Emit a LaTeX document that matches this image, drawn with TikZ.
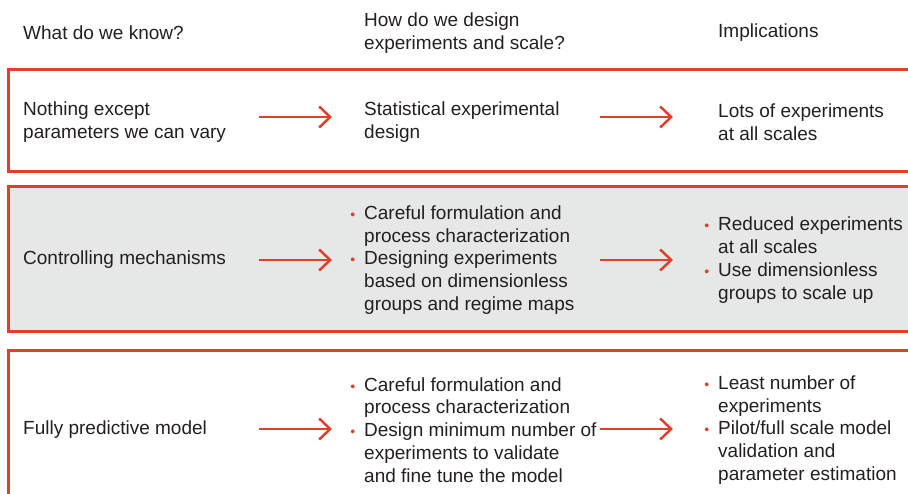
\documentclass[tikz,border=0pt]{standalone}
\usepackage{fontspec}
\setmainfont{Liberation Sans}
\usetikzlibrary{arrows.meta}
\definecolor{accent}{HTML}{E0402A}
\definecolor{panel}{HTML}{E6E7E7}
\definecolor{ink}{HTML}{231F20}
\newcommand{\bul}{\llap{\textcolor{accent}{\fontsize{14}{14}\selectfont •}\hspace{9pt}}}
\begin{document}
\begin{tikzpicture}[x=1pt,y=-1pt,
  lbl/.style={font=\fontsize{19}{22.8}\selectfont, text=ink, align=left, anchor=west, inner sep=0pt},
  panelbox/.style={draw=accent, line width=3pt},
  flow/.style={draw=accent, line width=2.5pt, -{Straight Barb[length=11pt,width=21pt]}}]
\useasboundingbox (0,0) rectangle (908,494);
\clip (0,0) rectangle (908,494);
% panels
\draw[panelbox] (8,70) rectangle (930,172);
\draw[panelbox, fill=panel] (8,187) rectangle (930,332);
\draw[panelbox] (8,351) rectangle (930,520);
% header
\node[lbl] (h1) at (23,33) {What do we know?};
\node[lbl] (h2) at (364,33) {How do we design\\experiments and scale?};
\node[lbl] (h3) at (718,33) {Implications};
% row 1
\node[lbl] (k1) at (23,122) {Nothing except\\parameters we can vary};
\node[lbl] (d1) at (364,122) {Statistical experimental\\design};
\node[lbl] (i1) at (718,122) {Lots of experiments\\at all scales};
% row 2
\node[lbl] (k2) at (23,260) {Controlling mechanisms};
\node[lbl] (d2) at (364,260) {\bul Careful formulation and\\process characterization\\\bul Designing experiments\\based on dimensionless\\groups and regime maps};
\node[lbl] (i2) at (718,260) {\bul Reduced experiments\\at all scales\\\bul Use dimensionless\\groups to scale up};
% row 3
\node[lbl] (k3) at (23,430) {Fully predictive model};
\node[lbl] (d3) at (364,430) {\bul Careful formulation and\\process characterization\\\bul Design minimum number of\\experiments to validate\\and fine tune the model};
\node[lbl] (i3) at (718,430) {\bul Least number of\\experiments\\\bul Pilot/full scale model\\validation and\\parameter estimation};
% arrow ends
\coordinate (a1s) at (259,117); \coordinate (a1e) at (332,117);
\coordinate (b1s) at (600,117); \coordinate (b1e) at (673,117);
\coordinate (a2s) at (259,260); \coordinate (a2e) at (332,260);
\coordinate (b2s) at (600,260); \coordinate (b2e) at (673,260);
\coordinate (a3s) at (259,429); \coordinate (a3e) at (332,429);
\coordinate (b3s) at (600,429); \coordinate (b3e) at (673,429);
\draw[flow] (a1s) -- (a1e);
\draw[flow] (b1s) -- (b1e);
\draw[flow] (a2s) -- (a2e);
\draw[flow] (b2s) -- (b2e);
\draw[flow] (a3s) -- (a3e);
\draw[flow] (b3s) -- (b3e);
\end{tikzpicture}
\end{document}
